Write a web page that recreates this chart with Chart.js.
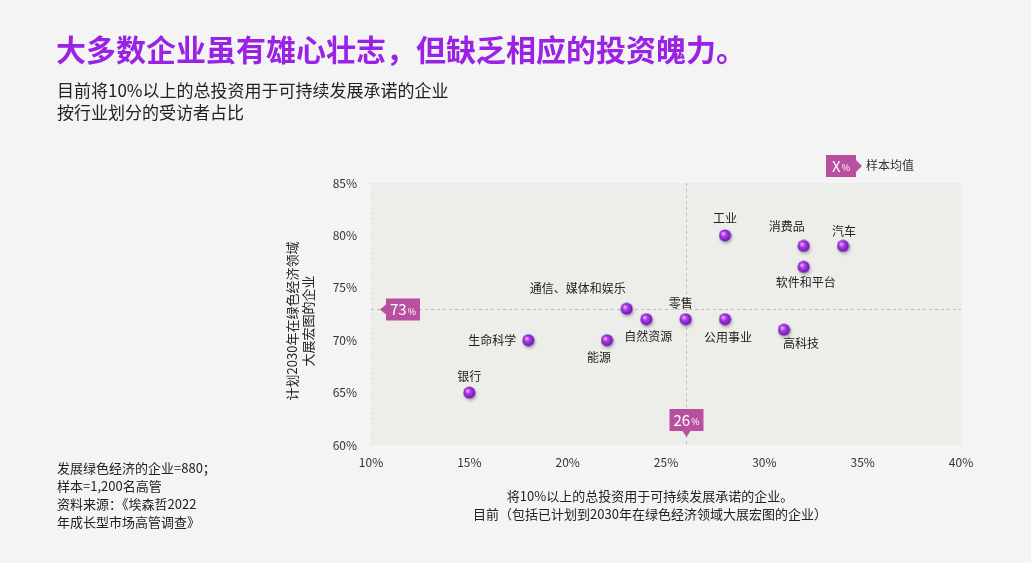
<!DOCTYPE html>
<html>
<head>
<meta charset="utf-8">
<script src="https://cdn.jsdelivr.net/npm/chart.js@4"></script>
<style>
  html, body { margin: 0; padding: 0; background: #f4f4f4; }
  body { width: 1031px; height: 563px; position: relative; overflow: hidden;
         font-family: 'Noto Sans CJK SC', 'Noto Sans', sans-serif; color: #222; }
  #chart { position: absolute; left: 0; top: 0; }
  .txt { position: absolute; white-space: nowrap; }
  #title { left: 56px; top: 31px; font-size: 30px; line-height: 34px; font-weight: 700; color: #9a22e4; }
  #subtitle { left: 57px; top: 79px; font-size: 17px; line-height: 22px; color: #222; }
  #notes { left: 57px; top: 459px; font-size: 13px; line-height: 18px; color: #222; }
  #xtitle { left: 400px; width: 500px; top: 487px; font-size: 13px; line-height: 18px; text-align: center; color: #222; }
</style>
</head>
<body>
<canvas id="chart" width="1031" height="563"></canvas>
<div id="title" class="txt">大多数企业虽有雄心壮志，但缺乏相应的投资魄力。</div>
<div id="subtitle" class="txt">目前将10%以上的总投资用于可持续发展承诺的企业<br>按行业划分的受访者占比</div>
<div id="notes" class="txt">发展绿色经济的企业=880；<br>样本=1,200名高管<br>资料来源：《埃森哲2022<br>年成长型市场高管调查》</div>
<div id="xtitle" class="txt">将10%以上的总投资用于可持续发展承诺的企业。<br>目前（包括已计划到2030年在绿色经济领域大展宏图的企业）</div>
<script>
// data
const industries = ['工业', '消费品', '汽车', '软件和平台', '通信、媒体和娱乐', '零售',
                    '自然资源', '公用事业', '高科技', '能源', '生命科学', '银行'];
const currentShare = [28, 32, 34, 32, 23, 26, 24, 28, 31, 22, 18, 15];
const planned2030 = [80, 79, 79, 77, 73, 72, 72, 72, 71, 70, 70, 65];
const xTicks = [10, 15, 20, 25, 30, 35, 40];
const yTicks = [60, 65, 70, 75, 80, 85];
const sampleMeanX = 26;
const sampleMeanY = 73;

// where each industry name sits relative to its dot
const labelOffsets = [[0, -17], [-17, -19], [1, -14], [2, 16], [-49, -20], [-5, -16],
                      [2, 17], [3, 18], [17, 14], [-8, 17], [-36, 0], [0, -16]];

const FONT = "'Noto Sans CJK SC', 'Noto Sans', sans-serif";
const MARK = '#b9509f';

// little purple sphere used as the point style
function makeDot() {
    const c = document.createElement('canvas');
    c.width = 13; c.height = 13;
    const g = c.getContext('2d');
    const grad = g.createRadialGradient(4.5, 4.5, 0.5, 6.5, 6.5, 6.5);
    grad.addColorStop(0, '#f0b0ff');
    grad.addColorStop(0.35, '#b23ce8');
    grad.addColorStop(1, '#5f10b0');
    g.fillStyle = grad;
    g.beginPath();
    g.arc(6.5, 6.5, 6, 0, Math.PI * 2);
    g.fill();
    return c;
}

const points = currentShare.map((x, i) => ({ x: x, y: planned2030[i] }));

function markerText(ctx, big, small, cx, cy) {
    ctx.textBaseline = 'middle';
    ctx.font = '15px ' + FONT;
    const w1 = ctx.measureText(big).width;
    ctx.font = '9px ' + FONT;
    const w2 = ctx.measureText(small).width;
    let x = cx - (w1 + w2 + 1) / 2;
    ctx.fillStyle = '#fff';
    ctx.textAlign = 'left';
    ctx.font = '15px ' + FONT;
    ctx.fillText(big, x, cy);
    ctx.font = '9px ' + FONT;
    ctx.fillText(small, x + w1 + 1, cy + 2);
}

const decorations = {
    id: 'decorations',
    beforeDatasetsDraw(chart) {
        const { ctx, chartArea: a, scales } = chart;
        ctx.save();
        // plot background
        ctx.fillStyle = '#ededea';
        ctx.fillRect(a.left, a.top, a.right - a.left, a.bottom - a.top);
        // dotted left edge
        ctx.strokeStyle = '#d4d4d0';
        ctx.setLineDash([1, 4]);
        ctx.beginPath();
        ctx.moveTo(a.left + 0.5, a.top);
        ctx.lineTo(a.left + 0.5, a.bottom);
        ctx.stroke();
        // sample mean lines
        const mx = Math.round(scales.x.getPixelForValue(sampleMeanX)) + 0.5;
        const my = Math.round(scales.y.getPixelForValue(sampleMeanY)) + 0.5;
        ctx.strokeStyle = '#bdbdbd';
        ctx.setLineDash([3, 3]);
        ctx.beginPath();
        ctx.moveTo(mx, a.top);
        ctx.lineTo(mx, a.bottom);
        ctx.moveTo(a.left, my);
        ctx.lineTo(a.right, my);
        ctx.stroke();
        ctx.setLineDash([]);

        // 26% marker under the plot
        ctx.fillStyle = MARK;
        ctx.beginPath();
        ctx.moveTo(mx - 17, 409);
        ctx.lineTo(mx + 17, 409);
        ctx.lineTo(mx + 17, 431);
        ctx.lineTo(mx + 4, 431);
        ctx.lineTo(mx, 437);
        ctx.lineTo(mx - 4, 431);
        ctx.lineTo(mx - 17, 431);
        ctx.closePath();
        ctx.fill();
        markerText(ctx, String(sampleMeanX), '%', mx, 420);

        // 73% marker on the left
        ctx.fillStyle = MARK;
        ctx.beginPath();
        ctx.moveTo(380, my);
        ctx.lineTo(386, my - 5);
        ctx.lineTo(386, my - 11);
        ctx.lineTo(420, my - 11);
        ctx.lineTo(420, my + 11);
        ctx.lineTo(386, my + 11);
        ctx.lineTo(386, my + 5);
        ctx.closePath();
        ctx.fill();
        markerText(ctx, String(sampleMeanY), '%', 403, my);

        // legend: X% -> 样本均值
        ctx.fillStyle = MARK;
        ctx.beginPath();
        ctx.moveTo(826, 155);
        ctx.lineTo(856, 155);
        ctx.lineTo(856, 160);
        ctx.lineTo(862, 166);
        ctx.lineTo(856, 172);
        ctx.lineTo(856, 177);
        ctx.lineTo(826, 177);
        ctx.closePath();
        ctx.fill();
        markerText(ctx, 'X', '%', 841, 166);
        ctx.fillStyle = '#333';
        ctx.font = '12px ' + FONT;
        ctx.textAlign = 'left';
        ctx.textBaseline = 'middle';
        ctx.fillText('样本均值', 866, 165);

        // rotated y-axis title
        ctx.translate(300, 321);
        ctx.rotate(-Math.PI / 2);
        ctx.fillStyle = '#222';
        ctx.font = '13px ' + FONT;
        ctx.textAlign = 'center';
        ctx.fillText('计划2030年在绿色经济领域', 0, -8);
        ctx.fillText('大展宏图的企业', 0, 8);
        ctx.restore();

        // soft shadow under the dots
        ctx.save();
        ctx.shadowColor = 'rgba(0,0,0,0.3)';
        ctx.shadowBlur = 3;
        ctx.shadowOffsetX = 1;
        ctx.shadowOffsetY = 2;
    },
    afterDatasetsDraw(chart) {
        const { ctx, scales } = chart;
        ctx.restore();
        ctx.save();
        ctx.fillStyle = '#222';
        ctx.font = '12px ' + FONT;
        ctx.textAlign = 'center';
        ctx.textBaseline = 'middle';
        industries.forEach((name, i) => {
            const px = scales.x.getPixelForValue(currentShare[i]);
            const py = scales.y.getPixelForValue(planned2030[i]);
            ctx.fillText(name, px + labelOffsets[i][0], py + labelOffsets[i][1]);
        });
        ctx.restore();
    }
};

new Chart(document.getElementById('chart').getContext('2d'), {
    type: 'scatter',
    data: {
        datasets: [{
            data: points,
            pointStyle: makeDot(),
            pointRadius: 6,
            pointHoverRadius: 6
        }]
    },
    options: {
        responsive: false,
        devicePixelRatio: 1,
        animation: false,
        layout: { padding: { top: 183, right: 70, bottom: 0, left: 0 } },
        plugins: { legend: { display: false }, tooltip: { enabled: false } },
        scales: {
            x: {
                type: 'linear',
                min: xTicks[0],
                max: xTicks[xTicks.length - 1],
                afterBuildTicks: s => { s.ticks = xTicks.map(v => ({ value: v })); },
                afterFit: s => { s.height = 118; },
                grid: { display: false, drawTicks: false },
                border: { display: false },
                ticks: {
                    padding: 10,
                    color: '#333',
                    font: { family: FONT, size: 12 },
                    callback: v => v + '%'
                }
            },
            y: {
                type: 'linear',
                min: yTicks[0],
                max: yTicks[yTicks.length - 1],
                afterBuildTicks: s => { s.ticks = yTicks.map(v => ({ value: v })); },
                afterFit: s => { s.width = 371; },
                grid: { display: false, drawTicks: false },
                border: { display: false },
                ticks: {
                    padding: 14,
                    color: '#333',
                    font: { family: FONT, size: 12 },
                    callback: v => v + '%'
                }
            }
        }
    },
    plugins: [decorations]
});
</script>
</body>
</html>
